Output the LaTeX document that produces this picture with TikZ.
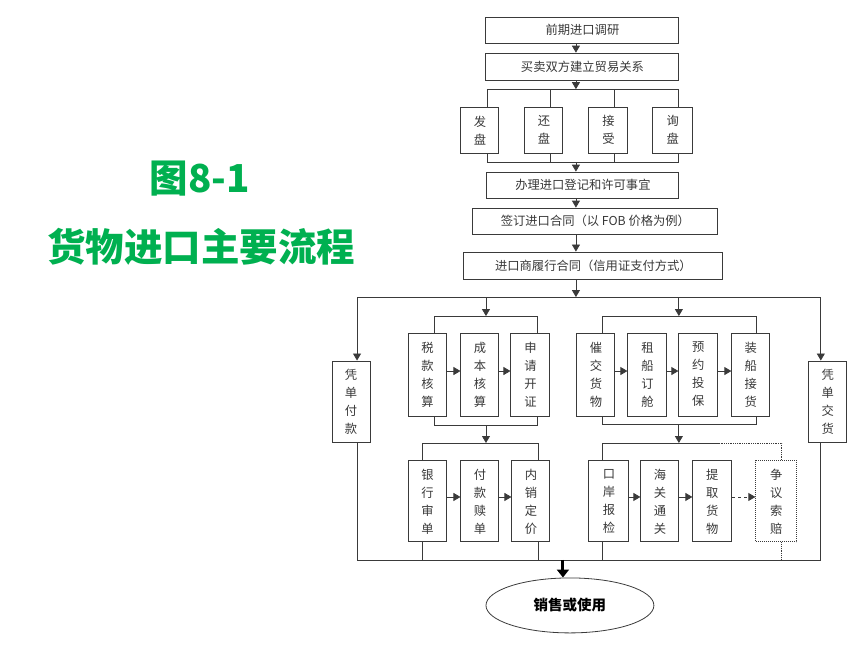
\documentclass[tikz,border=0pt]{standalone}
\usepackage{fontspec}
\setmainfont{Noto Sans CJK SC}
\usetikzlibrary{arrows.meta,shapes.geometric}
\definecolor{titlegreen}{HTML}{00B050}
\definecolor{linegray}{HTML}{3A3A3A}

\begin{document}
\begin{tikzpicture}[x=1pt,y=-1pt,
    box/.style={draw=linegray, line width=1pt, inner sep=0pt, text=black!78, align=center, font=\fontsize{12.3}{18}\selectfont},
    link/.style={draw=linegray, line width=0.8pt},
    arr/.style={link, -{Triangle[length=7pt,width=8pt]}},
    bigarr/.style={draw=black, line width=3pt, -{Triangle[length=8pt,width=12pt]}},
    heading/.style={text=titlegreen, font=\fontsize{38.5}{40}\selectfont\bfseries}]
            \draw[use as bounding box, transparent] (0,0) rectangle (860,645);
            % \draw[use as bounding box] (0,0) rectangle (860,645);

            % Define the macro.
            % 1st argument: Extra options for the box (optional).
            % 2nd argument: Name of the node.
            % 3rd and 4th argument: Centre of the box.
            % 5th and 6th argument: Width and height of the box.
            % 7th argument: Text, rows split by \\.
            \newcommand{\flowBox}[7][]{
                \node[box, minimum width=#5pt, minimum height=#6pt, #1] (#2) at (#3,#4) {#7};
            }

            % TITLE
            \node[heading] (fig) at (199.5,178.5) {图8-1};
            \node[heading] (caption) at (201,246.5) {货物进口主要流程};

            % PREPARATION
            \flowBox{survey}{582.5}{30}{193}{26}{前期进口调研}
            \flowBox{relation}{582.5}{66.5}{193}{27}{买卖双方建立贸易关系}
            \flowBox{offer}{480}{130}{38}{46}{发\\盘}          % 1
            \flowBox{counter}{544}{130}{38}{46}{还\\盘}        % 2
            \flowBox{accept}{608.5}{130}{39}{46}{接\\受}       % 3
            \flowBox{inquiry}{673}{130}{40}{46}{询\\盘}        % 4
            \flowBox{licence}{583}{185}{192}{26}{办理进口登记和许可事宜}
            \flowBox{contract}{595.5}{221}{245}{26}{签订进口合同（以 FOB 价格为例）}
            \flowBox{perform}{593.5}{265.5}{259}{27}{进口商履行合同（信用证支付方式）}

            % DOCUMENTS
            \flowBox{payDocs}{351}{402}{38}{82}{凭\\单\\付\\款}
            \flowBox{goodsDocs}{828}{402}{38}{82}{凭\\单\\交\\货}

            % PAYMENT SIDE
            \flowBox{tax}{427.5}{374.5}{39}{83}{税\\款\\核\\算}
            \flowBox{cost}{480}{374.5}{38}{83}{成\\本\\核\\算}
            \flowBox{credit}{530.5}{374.5}{39}{83}{申\\请\\开\\证}
            \flowBox{bank}{427.5}{501.5}{39}{81}{银\\行\\审\\单}
            \flowBox{redeem}{480}{501.5}{38}{81}{付\\款\\赎\\单}
            \flowBox{price}{531}{501.5}{38}{81}{内\\销\\定\\价}

            % SHIPPING SIDE
            \flowBox{urge}{596}{374.5}{38}{83}{催\\交\\货\\物}
            \flowBox{charter}{647.5}{374.5}{39}{83}{租\\船\\订\\舱}
            \flowBox{insure}{698.5}{374.5}{39}{83}{预\\约\\投\\保}
            \flowBox{load}{751}{374.5}{38}{83}{装\\船\\接\\货}
            \flowBox{inspect}{609}{501.5}{40}{81}{口\\岸\\报\\检}
            \flowBox{customs}{660}{501.5}{38}{81}{海\\关\\通\\关}
            \flowBox{pickup}{712.5}{501.5}{39}{81}{提\\取\\货\\物}
            \flowBox[densely dotted]{claim}{776.5}{501.5}{41}{81}{争\\议\\索\\赔}

            % END
            \node[draw=linegray, line width=0.8pt, ellipse, minimum width=168pt, minimum height=55pt, font=\fontsize{14.5}{16}\selectfont\bfseries] (sale) at (570,605.5) {销售或使用};

            % Junction points
            \coordinate (spine) at (576,0);
            \coordinate (t1) at (487,89);  \coordinate (t2) at (550,89);
            \coordinate (t3) at (614,89);  \coordinate (t4) at (679,89);
            \coordinate (j1) at (487,162); \coordinate (j4) at (679,162);
            \coordinate (busL) at (357,297); \coordinate (busR) at (821,297);
            \coordinate (colA) at (486,0);   \coordinate (colB) at (679,0);
            \coordinate (gA1) at (434,316);  \coordinate (gA2) at (537,316);
            \coordinate (hA1) at (434,425);  \coordinate (hA2) at (537,425);
            \coordinate (lA1) at (422,443);  \coordinate (lA2) at (538,443);
            \coordinate (gB1) at (602,316);  \coordinate (gB2) at (757,316);
            \coordinate (hB1) at (602,424);  \coordinate (hB2) at (757,424);
            \coordinate (lB1) at (602,443);  \coordinate (lB2) at (719,443);
            \coordinate (lB3) at (782,443);
            \coordinate (endL) at (357,560); \coordinate (endR) at (821,560);
            \coordinate (drop) at (563,560);

            % Main line
            \draw[arr] (survey.south -| spine) -- (relation.north -| spine);
            \draw[arr] (relation.south -| spine) -- (t1 -| spine);
            \draw[link] (t1) -- (t4);
            \foreach \t/\n in {t1/offer,t2/counter,t3/accept,t4/inquiry}{
                \draw[link] (\t) -- (\t |- \n.north);
                \draw[link] (\t |- \n.south) -- (\t |- j1);
            }
            \draw[link] (j1) -- (j4);
            \draw[arr] (j1 -| spine) -- (licence.north -| spine);
            \draw[arr] (licence.south -| spine) -- (contract.north -| spine);
            \draw[arr] (contract.south -| spine) -- (perform.north -| spine);
            \draw[arr] (perform.south -| spine) -- (busL -| spine);
            \draw[link] (busL) -- (busR);
            \draw[arr] (busL) -- (busL |- payDocs.north);
            \draw[arr] (busR) -- (busR |- goodsDocs.north);
            \draw[arr] (busL -| colA) -- (gA1 -| colA);
            \draw[arr] (busL -| colB) -- (gB1 -| colB);

            % Payment side
            \draw[link] (gA1 |- tax.north) -- (gA1) -- (gA2) -- (gA2 |- credit.north);
            \draw[link] (hA1 |- tax.south) -- (hA1) -- (hA2) -- (hA2 |- credit.south);
            \draw[arr] ([yshift=3.5pt]tax.east) -- ([yshift=3.5pt]cost.west);
            \draw[arr] ([yshift=3.5pt]cost.east) -- ([yshift=3.5pt]credit.west);
            \draw[arr] (hA1 -| colA) -- (lA1 -| colA);
            \draw[link] (lA1 |- bank.north) -- (lA1) -- (lA2) -- (lA2 |- price.north);
            \draw[arr] ([yshift=4.5pt]bank.east) -- ([yshift=4.5pt]redeem.west);
            \draw[arr] ([yshift=4.5pt]redeem.east) -- ([yshift=4.5pt]price.west);

            % Shipping side
            \draw[link] (gB1 |- urge.north) -- (gB1) -- (gB2) -- (gB2 |- load.north);
            \draw[link] (hB1 |- urge.south) -- (hB1) -- (hB2) -- (hB2 |- load.south);
            \draw[arr] ([yshift=3.5pt]urge.east) -- ([yshift=3.5pt]charter.west);
            \draw[arr] ([yshift=3.5pt]charter.east) -- ([yshift=3.5pt]insure.west);
            \draw[arr] ([yshift=3.5pt]insure.east) -- ([yshift=3.5pt]load.west);
            \draw[arr] (hB1 -| colB) -- (lB1 -| colB);
            \draw[link] (lB1 |- inspect.north) -- (lB1) -- (lB2);
            \draw[link, densely dotted] (lB2) -- (lB3) -- (lB3 |- claim.north);
            \draw[arr] ([yshift=4.5pt]inspect.east) -- ([yshift=4.5pt]customs.west);
            \draw[arr] ([yshift=4.5pt]customs.east) -- ([yshift=4.5pt]pickup.west);
            \draw[arr, dashed] ([yshift=4.5pt]pickup.east) -- ([yshift=4.5pt]claim.west);

            % Bottom line
            \draw[link] (busL |- payDocs.south) -- (endL) -- (endR) -- (busR |- goodsDocs.south);
            \draw[link] (lA1 |- bank.south) -- (lA1 |- endL);
            \draw[link] (lA2 |- price.south) -- (lA2 |- endL);
            \draw[link] (lB1 |- inspect.south) -- (lB1 |- endL);
            \draw[link, densely dotted] (lB3 |- claim.south) -- (lB3 |- endL);
            \draw[bigarr] (drop) -- (drop |- sale.north);

        \end{tikzpicture}
\end{document}
